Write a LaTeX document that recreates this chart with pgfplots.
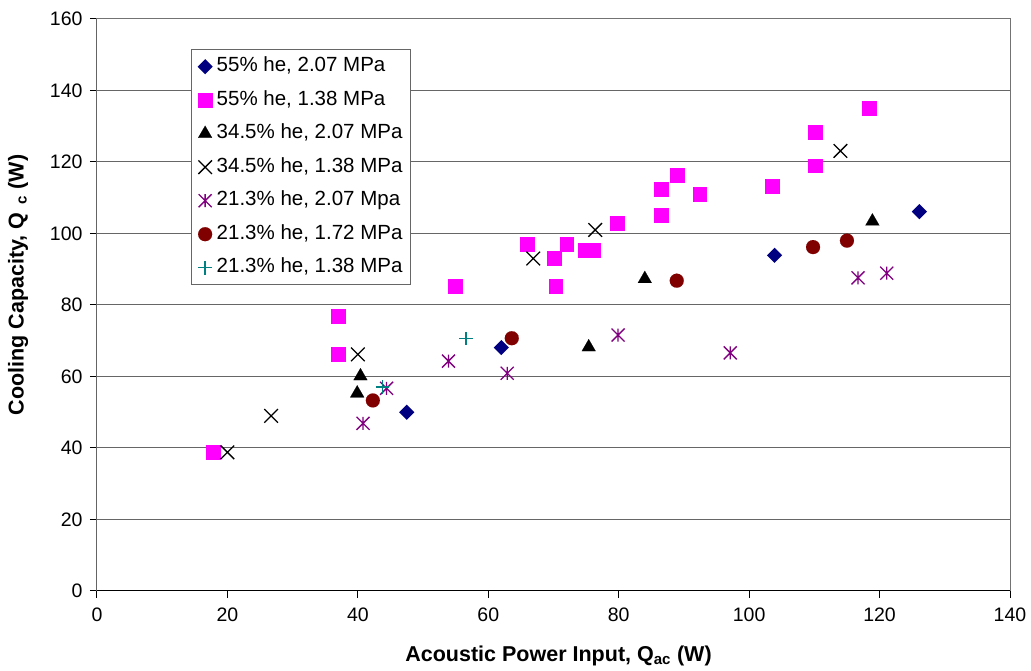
\documentclass[border=0pt]{standalone}
\usepackage{pgfplots}
\pgfplotsset{compat=1.18}
\usepackage{fontspec}
\setmainfont{Liberation Sans}
\definecolor{cnavy}{RGB}{0,0,128}
\definecolor{cmag}{RGB}{255,0,255}
\definecolor{cpurp}{RGB}{128,0,128}
\definecolor{cdred}{RGB}{128,0,0}
\definecolor{cteal}{RGB}{0,128,128}
\pgfdeclareplotmark{xast}{%
 \pgfpathmoveto{\pgfqpoint{0pt}{\pgfplotmarksize}}\pgfpathlineto{\pgfqpoint{0pt}{-\pgfplotmarksize}}%
 \pgfpathmoveto{\pgfqpoint{-\pgfplotmarksize}{-\pgfplotmarksize}}\pgfpathlineto{\pgfqpoint{\pgfplotmarksize}{\pgfplotmarksize}}%
 \pgfpathmoveto{\pgfqpoint{-\pgfplotmarksize}{\pgfplotmarksize}}\pgfpathlineto{\pgfqpoint{\pgfplotmarksize}{-\pgfplotmarksize}}%
 \pgfusepathqstroke}
\pgfdeclareplotmark{bigx}{%
 \pgfpathmoveto{\pgfqpoint{-\pgfplotmarksize}{-\pgfplotmarksize}}\pgfpathlineto{\pgfqpoint{\pgfplotmarksize}{\pgfplotmarksize}}%
 \pgfpathmoveto{\pgfqpoint{-\pgfplotmarksize}{\pgfplotmarksize}}\pgfpathlineto{\pgfqpoint{\pgfplotmarksize}{-\pgfplotmarksize}}%
 \pgfusepathqstroke}
\pgfdeclareplotmark{dmd}{%
 \pgfpathmoveto{\pgfqpoint{0pt}{\pgfplotmarksize}}\pgfpathlineto{\pgfqpoint{\pgfplotmarksize}{0pt}}%
 \pgfpathlineto{\pgfqpoint{0pt}{-\pgfplotmarksize}}\pgfpathlineto{\pgfqpoint{-\pgfplotmarksize}{0pt}}\pgfpathclose
 \pgfusepathqfill}
\begin{document}
\begin{tikzpicture}
\path[use as bounding box] (-97pt,-80pt) rectangle (934pt,591pt);
\begin{axis}[
  scale only axis, width=913pt, height=572pt,
  at={(0,0)}, anchor=south west,
  xmin=0, xmax=140, ymin=0, ymax=160,
  xtick={0,20,...,140}, ytick={0,20,...,160},
  axis line style={black!55, line width=1pt},
  tick align=outside, xtick pos=left, ytick pos=left,
  major tick length=7pt,
  tick style={black, line width=1pt},
  ymajorgrids, grid style={black!60, line width=1pt},
  /pgf/number format/assume math mode=true,
  ticklabel style={font=\fontsize{19.5}{20}\selectfont},
  xticklabel style={yshift=-6pt},
  yticklabel style={xshift=-4pt},
  xlabel={\bfseries Acoustic Power Input, Q\textsubscript{ac} (W)},
  ylabel={\bfseries Cooling Capacity, Q\textsubscript{\ \ c} (W)},
  label style={font=\fontsize{21.5}{22}\selectfont},
  xlabel style={at={(axis description cs:0.5055,-0.114)}, anchor=center},
  ylabel style={at={(axis description cs:-0.0865,0.535)}, anchor=center},
  legend cell align=left,
  legend image code/.code={\draw[mark repeat=2,mark phase=2,#1] plot coordinates {(-7pt,0pt)(0pt,0pt)(7pt,0pt)};},
  legend style={at={(axis description cs:0.103,0.9476)}, anchor=north west,
    draw=black!60, line width=1pt, fill=white,
    font=\fontsize{20.5}{24}\selectfont,
    inner xsep=6pt, inner ysep=0.5pt, row sep=0pt, column sep=2pt,
    nodes={inner xsep=2pt, inner ysep=6.75pt, text height=15pt, text depth=5pt}},
]
\addplot[only marks, mark=dmd, mark size=7.6pt, mark options={fill=cnavy, draw=cnavy}]
 coordinates {(47.5,50.0) (62.0,68.1) (103.9,93.9) (126.1,106.1)};
\addlegendentry{55\% he, 2.07 MPa}
\addplot[only marks, mark=square*, mark size=6.9pt, mark options={fill=cmag, draw=cmag, line width=0.1pt}]
 coordinates {(17.8,38.8) (37.0,76.9) (37.0,66.3) (54.9,85.4) (65.9,97.1) (70.1,93.1) (70.3,85.4) (72.0,97.1) (74.8,95.3) (76.1,95.3) (79.8,102.9) (86.5,112.4) (86.5,105.2) (88.9,116.4) (92.4,111.0) (103.5,113.2) (110.1,128.4) (110.1,119.0) (118.4,135.1)};
\addlegendentry{55\% he, 1.38 MPa}
\addplot[only marks, mark=triangle*, mark size=8pt, mark options={fill=black, draw=black, line width=0.1pt}]
 coordinates {(39.9,55.3) (40.4,60.1) (75.4,68.2) (84.0,87.3) (118.9,103.4)};
\addlegendentry{34.5\% he, 2.07 MPa}
\addplot[only marks, mark=bigx, mark size=6.8pt, mark options={draw=black, line width=1.3pt}]
 coordinates {(20.0,38.8) (26.7,49.0) (40.0,66.2) (66.9,93.0) (76.4,101.0) (114.0,123.1)};
\addlegendentry{34.5\% he, 1.38 MPa}
\addplot[only marks, mark=xast, mark size=6.5pt, mark options={draw=cpurp, line width=1.3pt}]
 coordinates {(40.8,46.9) (44.4,56.7) (53.9,64.3) (62.9,60.9) (79.9,71.6) (97.1,66.6) (116.7,87.6) (121.1,88.9)};
\addlegendentry{21.3\% he, 2.07 Mpa}
\addplot[only marks, mark=*, mark size=7pt, mark options={fill=cdred, draw=cdred, line width=0.1pt}]
 coordinates {(42.3,53.3) (63.6,70.7) (88.9,86.8) (109.8,96.2) (115.0,98.0)};
\addlegendentry{21.3\% he, 1.72 MPa}
\addplot[only marks, mark=+, mark size=6.8pt, mark options={draw=cteal, line width=1.3pt}]
 coordinates {(43.8,57.1) (56.6,70.6)};
\addlegendentry{21.3\% he, 1.38 MPa}
\draw[black, line width=1pt] (rel axis cs:0,1) -- (rel axis cs:0,0) -- (rel axis cs:1,0);
\end{axis}
\end{tikzpicture}
\end{document}
